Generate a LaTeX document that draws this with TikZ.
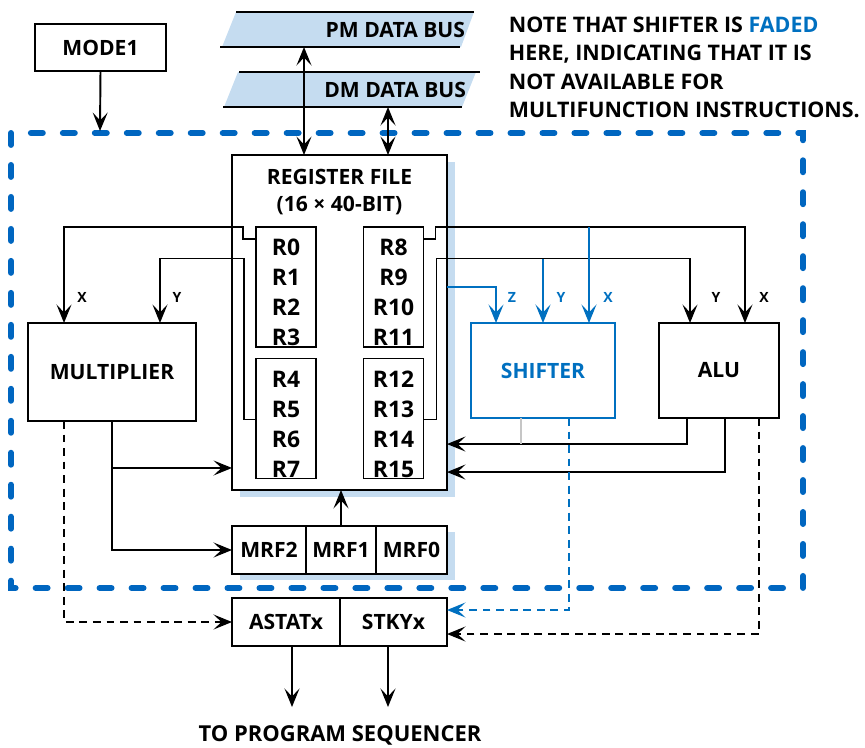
\documentclass[tikz,border=0pt]{standalone}
\usepackage{fontspec}
\IfFontExistsTF{Open Sans SemiBold}
  {\setmainfont{Open Sans}[BoldFont={Open Sans SemiBold}]}
  {\setmainfont{Open Sans}}
\usetikzlibrary{arrows.meta,backgrounds}

\definecolor{busfill}{RGB}{197,220,240}
\definecolor{fadeblue}{RGB}{0,112,192}
\definecolor{fenceblue}{RGB}{0,102,192}

\tikzset{
  >={Stealth[length=10.5pt,width=8.5pt,inset=4.5pt]},
  lbl/.style={inner sep=0pt,font=\fontsize{12}{15.9}\selectfont\bfseries},
  box/.style={rectangle,draw,fill=white,inner sep=0pt,outer sep=0pt,lbl},
  regtxt/.style={inner sep=0pt,anchor=base,font=\fontsize{13}{15}\selectfont\bfseries},
  tag/.style={inner sep=0pt,font=\fontsize{8}{9}\selectfont\bfseries},
  faded/.style={draw=fadeblue,text=fadeblue},
  dashline/.style={dash pattern=on 4.5pt off 3.2pt},
  fence/.style={draw=fenceblue,line width=3.4pt,line cap=round,dash pattern=on 6.8pt off 11.4pt}
}

\begin{document}
\begin{tikzpicture}[x=0.02cm,y=-0.02cm,line width=1.1pt]
\useasboundingbox (0,0) rectangle (865,747);

% dashed frame
\draw[fence] (11,133) rectangle (803,588);

% data busses
\fill[busfill] (222,47) -- (236,12) -- (474,12) -- (461,47) -- cycle;
\draw (236,12) -- (474,12) (220,47) -- (460,47);
\node[lbl,anchor=east] (pm) at (466,30) {PM DATA BUS};
\fill[busfill] (224,107) -- (238,72) -- (476,72) -- (462,107) -- cycle;
\draw (239,72) -- (480,72) (223,107) -- (462,107);
\node[lbl,anchor=east] (dm) at (467,89.5) {DM DATA BUS};
\coordinate (pmtap) at (304,47);
\coordinate (dmtap) at (388,107);

\node[box,minimum width=2.62cm,minimum height=0.94cm] (mode) at (100.5,47.5) {MODE1};
\coordinate (modein) at (100,131);

% register file
\node[box,minimum width=4.3cm,minimum height=6.7cm] (reg) at (339.5,322.5) {};
\node[lbl,align=center] (regname) at (339.5,192) {REGISTER FILE\\(16 × 40-BIT)};
\node[box,minimum width=1.2cm,minimum height=2.4cm] (r0box) at (286,287) {};
\node[box,minimum width=1.2cm,minimum height=2.4cm] (r4box) at (286,418.5) {};
\node[box,minimum width=1.2cm,minimum height=2.4cm] (r8box) at (393.5,287) {};
\node[box,minimum width=1.2cm,minimum height=2.4cm] (r12box) at (393.5,418.5) {};
\foreach \a/\b [count=\i from 0] in {R0/R8,R1/R9,R2/R10,R3/R11} {
  \node[regtxt] (\a) at (286,255+30*\i) {\a};
  \node[regtxt] (\b) at (393.5,255+30*\i) {\b};
}
\foreach \a/\b [count=\i from 0] in {R4/R12,R5/R13,R6/R14,R7/R15} {
  \node[regtxt] (\a) at (286,387+30*\i) {\a};
  \node[regtxt] (\b) at (393.5,387+30*\i) {\b};
}

% units
\node[box,minimum width=3.36cm,minimum height=1.96cm] (mult) at (112,372) {MULTIPLIER};
\node[box,faded,minimum width=2.88cm,minimum height=1.9cm] (shifter) at (543,370.5) {SHIFTER};
\node[box,minimum width=2.4cm,minimum height=1.9cm] (alu) at (719,370.5) {ALU};

\node[box,minimum width=1.48cm,minimum height=0.96cm] (mrf2) at (269,550) {MRF2};
\node[box,minimum width=1.4cm,minimum height=0.96cm] (mrf1) at (341,550) {MRF1};
\node[box,minimum width=1.42cm,minimum height=0.96cm] (mrf0) at (411.5,550) {MRF0};
\node[box,minimum width=2.16cm,minimum height=0.96cm] (astat) at (286,622) {ASTATx};
\node[box,minimum width=2.14cm,minimum height=0.96cm] (stky) at (393.5,622) {STKYx};

\node[lbl,font=\fontsize{12.5}{15}\selectfont\bfseries] (seq) at (340,735) {TO PROGRAM SEQUENCER};
\coordinate (seqa) at (292,707);
\coordinate (seqb) at (388,707);

\node[lbl,anchor=north west,align=left,font=\fontsize{12.2}{16.2}\selectfont\bfseries] (note) at (508,16)
  {NOTE THAT SHIFTER IS \textcolor{fadeblue}{FADED}\\HERE, INDICATING THAT IT IS\\NOT AVAILABLE FOR\\MULTIFUNCTION INSTRUCTIONS.};

% input tags
\node[tag] (mx) at (82,297) {X};
\node[tag] (my) at (177,297) {Y};
\node[tag,text=fadeblue] (sz) at (512,297) {Z};
\node[tag,text=fadeblue] (sy) at (561,297) {Y};
\node[tag,text=fadeblue] (sx) at (608,297) {X};
\node[tag] (ay) at (716,297) {Y};
\node[tag] (ax) at (764,297) {X};

% shadows
\begin{scope}[on background layer]
\fill[busfill] ([shift={(8,7)}]reg.south west) rectangle ([shift={(8,7)}]reg.north east);
\fill[busfill] ([shift={(8,6)}]mrf2.south west) rectangle ([shift={(8,6)}]mrf0.north east);
\end{scope}

% connections
\draw[->] (mode.south) -- (modein);
\draw[<->] (pmtap) -- (pmtap |- reg.north);
\draw[<->] (dmtap) -- (dmtap |- reg.north);

\draw[->] ([shift={(0,12)}]r0box.north west) -- ++(-13,0) -- ++(0,-12) -| ([shift={(36,0)}]mult.north west);
\draw[->] ([shift={(0,61)}]r4box.north west) -- ++(-12,0) -- ++(0,-161) -| ([shift={(-36,0)}]mult.north east);
\draw[->] ([shift={(0,12)}]r8box.north east) -- ++(12,0) -- ++(0,-12) -| ([shift={(-34,0)}]alu.north east);
\draw[->] ([shift={(0,61)}]r12box.north east) -- ++(13,0) -- ++(0,-161) -| ([shift={(31,0)}]alu.north west);

\draw[faded,->] ([shift={(0,132)}]reg.north east) -| ([shift={(25,0)}]shifter.north west);
\draw[faded,->] ([shift={(0,-64)}]shifter.north) -- (shifter.north);
\draw[faded,->] ([shift={(-26,-96)}]shifter.north east) -- ([shift={(-26,0)}]shifter.north east);

\draw[->] ([shift={(28,0)}]alu.south west) |- ([shift={(0,289)}]reg.north east);
\draw[->] ([shift={(66,0)}]alu.south west) |- ([shift={(0,317)}]reg.north east);
\draw[dashline,->] ([shift={(-20,0)}]alu.south east) |- ([shift={(0,12)}]stky.east);
\draw[gray!45] ([shift={(-22,0)}]shifter.south) -- ++(0,26);
\draw[faded,dashline,->] ([shift={(26,0)}]shifter.south) |- ([shift={(0,-12)}]stky.east);

\draw[->] (mult.south) |- (mrf2.west);
\draw[->] ([shift={(0,47)}]mult.south) -- ([shift={(0,-22)}]reg.south west);
\draw[dashline,->] ([shift={(36,0)}]mult.south west) |- (astat.west);
\draw[->] (mrf1.north) -- (mrf1.north |- reg.south);

\draw[->] (astat.south -| seqa) -- (seqa);
\draw[->] (stky.south -| seqb) -- (seqb);
\end{tikzpicture}
\end{document}
